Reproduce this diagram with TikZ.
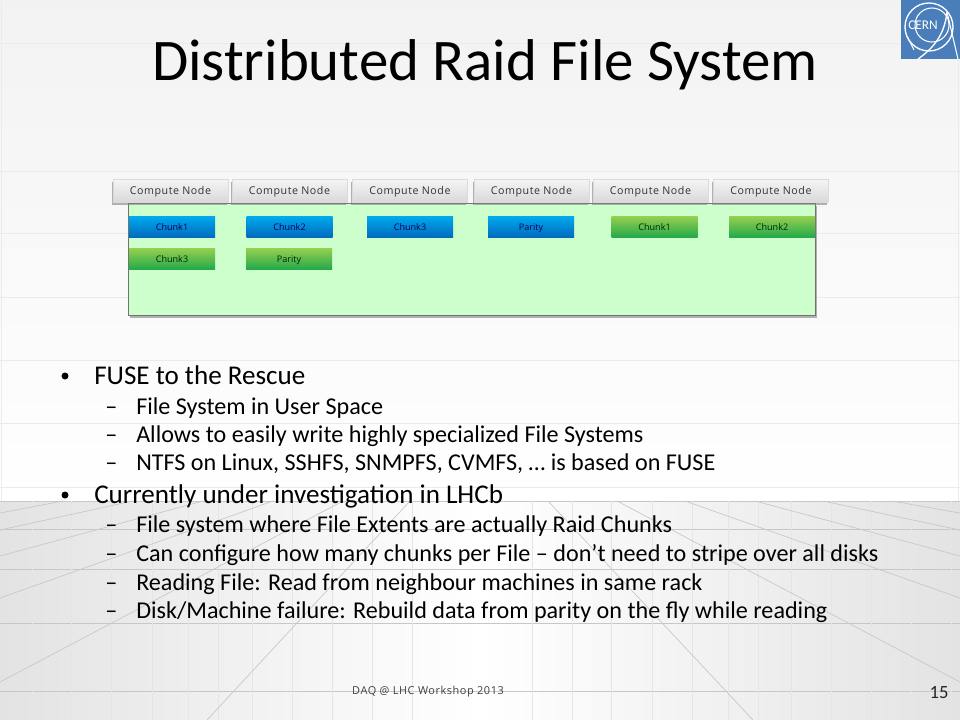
\documentclass[tikz,border=0pt]{standalone}
\usepackage{fontspec}
\usepackage{xcolor}
\setmainfont{Carlito}
\newfontfamily\tabfont[LetterSpace=5]{Open Sans}
\newfontfamily\chunkfont{Open Sans}
\usetikzlibrary{shadows}
\definecolor{panelgreen}{HTML}{CCFFCC}
\definecolor{cernblue}{HTML}{4A7EBB}
\definecolor{bluetop}{HTML}{00A8EC}
\definecolor{bluebot}{HTML}{0068BC}
\definecolor{greentop}{HTML}{92CE50}
\definecolor{greenbot}{HTML}{1FA84A}
\begin{document}
\begin{tikzpicture}[x=0.75pt,y=-0.75pt,
    wall/.style={draw=black!8,line width=0.6pt},
    floor/.style={draw=black!22,line width=0.5pt},
    tile/.style={draw=black!10,line width=0.5pt},
    tabbox/.style={draw=black!14,line width=0.4pt,top color=black!4,bottom color=black!15,minimum width=86.25pt,minimum height=17.25pt,inner sep=0pt,text height=7.5pt,font=\tabfont\fontsize{8}{9}\selectfont,text=black!80,drop shadow={shadow xshift=-1pt,shadow yshift=-2pt,opacity=0.6}},
    chunkbox/.style={minimum width=64.5pt,minimum height=15.75pt,inner sep=0pt,text height=6pt,text depth=1.5pt,font=\chunkfont\fontsize{6.8}{8}\selectfont},
    bluechunk/.style={chunkbox,top color=bluetop,bottom color=bluebot,text=blue!35!black},
    greenchunk/.style={chunkbox,top color=greentop,bottom color=greenbot,text=green!15!black},
    mainitem/.style={anchor=base west,inner sep=0pt,font=\fontsize{20.3}{22}\selectfont},
    subitem/.style={anchor=base west,inner sep=0pt,font=\fontsize{18.1}{20}\selectfont}]
    \useasboundingbox (0,0) rectangle (960,720);
    % slide background
    \shade[top color=black!5,bottom color=white] (0,0) rectangle (960,501);
    \shade[left color=black!11,right color=black!11,middle color=white] (0,501) rectangle (960,720);
    \draw[wall] (0,43)--(901,43);
    \draw[wall] (0,171)--(960,171);
    \draw[wall] (0,233)--(960,233);
    \draw[wall] (0,297)--(960,297);
    \draw[wall] (0,360)--(960,360);
    \draw[wall] (0,423)--(960,423);
    \draw[wall] (0,487)--(960,487);
    \draw[wall] (1,0)--(1,501);
    \draw[wall] (958,59)--(958,501);
    \draw[floor] (0,501)--(960,501);
    \draw[floor] (0,529)--(960,529);
    \draw[floor] (0,569)--(960,569);
    \draw[floor] (0,623)--(960,623);
    \draw[floor] (0,691)--(960,691);
    \draw[tile] (32,501)--(32,720);
    \draw[tile] (71,501)--(71,720);
    \draw[tile] (111,501)--(111,720);
    \draw[tile] (152,501)--(152,720);
    \draw[tile] (188,501)--(188,720);
    \draw[tile] (218,501)--(218,720);
    \draw[tile] (252,501)--(252,720);
    \draw[tile] (292,501)--(292,720);
    \draw[tile] (332,501)--(332,720);
    \draw[tile] (372,501)--(372,720);
    \draw[tile] (412,501)--(412,720);
    \draw[tile] (532,501)--(532,720);
    \draw[tile] (572,501)--(572,720);
    \draw[tile] (611,501)--(611,720);
    \draw[tile] (652,501)--(652,720);
    \draw[tile] (692,501)--(692,720);
    \draw[tile] (728,501)--(728,720);
    \draw[tile] (758,501)--(758,720);
    \draw[tile] (791,501)--(791,720);
    \draw[tile] (831,501)--(831,720);
    \draw[tile] (871,501)--(871,720);
    \draw[tile] (911,501)--(911,720);
    \draw[tile] (951,501)--(951,720);
    \draw[floor] (0,513)--(63,501);
    \draw[floor] (0,530)--(133,501);
    \draw[floor] (0,556)--(203,501);
    \draw[floor] (0,598)--(273,501);
    \draw[floor] (0,682)--(343,501);
    \draw[floor] (207,720)--(410,501);
    \draw[floor] (960,513)--(892,501);
    \draw[floor] (960,530)--(823,501);
    \draw[floor] (960,556)--(755,501);
    \draw[floor] (960,598)--(685,501);
    \draw[floor] (960,682)--(617,501);
    \draw[floor] (753,720)--(548,501);
    % logo
    \fill[cernblue] (901,0) rectangle (960,59);
    \begin{scope}
        \clip (901,0) rectangle (960,59);
        \draw[white,line width=1pt] (929,27) circle (24);
        \draw[white,line width=0.8pt] (932,25) circle (17);
        \draw[white,line width=1pt] (918,59)..controls (938,45) and (945,30)..(947,12);
        \draw[white,line width=0.8pt] (947,12)--(958,59);
        \draw[white,line width=0.8pt] (907,36)--(914,50);
        \node[text=white,inner sep=0pt,font=\fontsize{10}{10}\selectfont] (cernlabel) at (923,25) {CERN};
    \end{scope}
    % title
    \node[anchor=base,inner sep=0pt,font=\fontsize{44.2}{48}\selectfont] (title) at (485,81) {Distributed Raid File System};
    % cluster
    \node[draw=black!55,fill=panelgreen,line width=0.5pt,minimum width=515.25pt,minimum height=84pt,inner sep=0pt,drop shadow={shadow xshift=1pt,shadow yshift=-2pt,opacity=0.6}] (panel) at (472,259) {};
    \node[tabbox] (tab1) at (170.5,190.5) {Compute Node};
    \node[tabbox] (tab2) at (289.5,190.5) {Compute Node};
    \node[tabbox] (tab3) at (410,190.5) {Compute Node};
    \node[tabbox] (tab4) at (531.5,190.5) {Compute Node};
    \node[tabbox] (tab5) at (650.5,190.5) {Compute Node};
    \node[tabbox] (tab6) at (771,190.5) {Compute Node};
    \node[bluechunk] (blue1) at (172,227.5) {Chunk1};
    \node[bluechunk] (blue2) at (289.5,227.5) {Chunk2};
    \node[bluechunk] (blue3) at (410,227.5) {Chunk3};
    \node[bluechunk] (blue4) at (531,227.5) {Parity};
    \node[greenchunk] (green1) at (654.5,227.5) {Chunk1};
    \node[greenchunk] (green2) at (772,227.5) {Chunk2};
    \node[greenchunk] (green3) at (172,259.5) {Chunk3};
    \node[greenchunk] (green4) at (289,259.5) {Parity};
    % text
    \fill (65,376) circle (3.5);
    \node[mainitem] (fuse) at (94,384) {FUSE to the Rescue};
    \node[subitem] (dasha) at (105,414) {–};
    \node[subitem] (fusea) at (136,414) {File System in User Space};
    \node[subitem] (dashb) at (105,442) {–};
    \node[subitem] (fuseb) at (136,442) {Allows to easily write highly specialized File Systems};
    \node[subitem] (dashc) at (105,470) {–};
    \node[subitem] (fusec) at (136,470) {NTFS on Linux, SSHFS, SNMPFS, CVMFS, … is based on FUSE};
    \fill (65,495) circle (3.5);
    \node[mainitem] (lhcb) at (94,503) {Currently under investigation in LHCb};
    \node[subitem] (dashd) at (105,532) {–};
    \node[subitem] (lhcba) at (136,532) {File system where File Extents are actually Raid Chunks};
    \node[subitem] (dashe) at (105,561) {–};
    \node[subitem] (lhcbb) at (136,561) {Can configure how many chunks per File – don’t need to stripe over all disks};
    \node[subitem] (dashf) at (105,590) {–};
    \node[subitem] (lhcbc) at (136,590) {Reading File: Read from neighbour machines in same rack};
    \node[subitem] (dashg) at (105,618) {–};
    \node[subitem] (lhcbd) at (136,618) {Disk/Machine failure: Rebuild data from parity on the fly while reading};
    % footer
    \node[inner sep=0pt,text=black!75,font=\tabfont\fontsize{8.2}{9}\selectfont] (footer) at (428,692) {DAQ @ LHC Workshop 2013};
    \node[anchor=base,inner sep=0pt,text=black!85,font=\fontsize{14}{16}\selectfont] (pagenum) at (939,698) {15};
\end{tikzpicture}
\end{document}
